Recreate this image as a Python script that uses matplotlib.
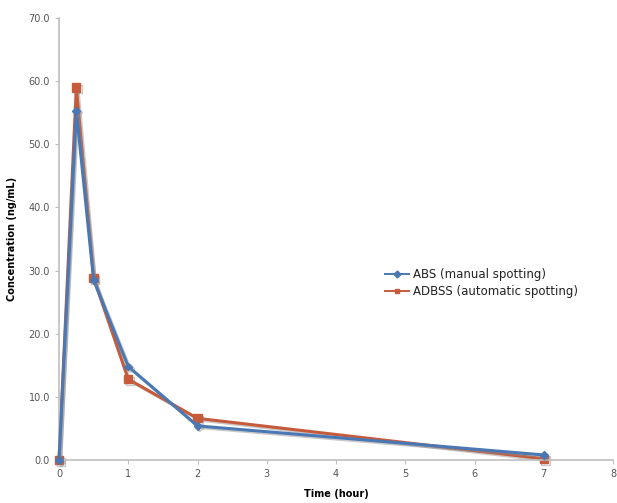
import numpy as np
import matplotlib.pyplot as plt
import matplotlib.patheffects as pe
from matplotlib.ticker import MultipleLocator, FormatStrFormatter

# ===============================
# Data
# ===============================
time_h = [0, 0.25, 0.5, 1, 2, 7]
abs_conc = [0.0, 55.3, 28.5, 14.8, 5.4, 0.8]
adbss_conc = [0.0, 59.0, 28.8, 12.8, 6.6, 0.2]

labels = ["ABS (manual spotting)", "ADBSS (automatic spotting)"]

BLUE = "#4A78B4"
RED = "#C65B3C"
AXIS_GREY = "#BFBFBF"

# ===============================
# Figure
# ===============================
fig = plt.figure(figsize=(6.17, 5.03), dpi=100)
ax = fig.add_axes([59 / 617, 1 - 460 / 503, (613 - 59) / 617, (460 - 18) / 503])

shadow = [pe.SimpleLineShadow(offset=(1.2, -1.2), shadow_color="#888888", alpha=0.45),
          pe.Normal()]

ax.plot(time_h, abs_conc, color=BLUE, linewidth=2.2, marker="D", markersize=4,
        label=labels[0], path_effects=shadow, zorder=3, clip_on=False)
ax.plot(time_h, adbss_conc, color=RED, linewidth=2.2, marker="s", markersize=6,
        label=labels[1], path_effects=shadow, zorder=2, clip_on=False)

ax.set_xlim(0, 8)
ax.set_ylim(0, 70)
ax.xaxis.set_major_locator(MultipleLocator(1))
ax.yaxis.set_major_locator(MultipleLocator(10))
ax.yaxis.set_major_formatter(FormatStrFormatter("%.1f"))

for side in ["top", "right"]:
    ax.spines[side].set_visible(False)
for side in ["left", "bottom"]:
    ax.spines[side].set_color(AXIS_GREY)
    ax.spines[side].set_linewidth(1.2)

ax.tick_params(axis="both", colors=AXIS_GREY, labelcolor="#555555", labelsize=7,
               length=3, direction="out")

ax.set_xlabel("Time (hour)", fontsize=7, fontweight="bold")
ax.set_ylabel("Concentration (ng/mL)", fontsize=7, fontweight="bold")
ax.xaxis.set_label_coords(0.5, -0.065)
ax.yaxis.set_label_coords(-0.075, 0.5)

leg = ax.legend(loc="center left", bbox_to_anchor=(0.57, 0.40), frameon=False,
                fontsize=8.5, handlelength=2.0, handletextpad=0.3, labelspacing=0.3)
for txt in leg.get_texts():
    txt.set_color("#222222")
for h in leg.legend_handles:
    h.set_linewidth(1.4)
    h.set_markersize(3.5)
    h.set_path_effects([])

fig.savefig("out.png", dpi=100)
